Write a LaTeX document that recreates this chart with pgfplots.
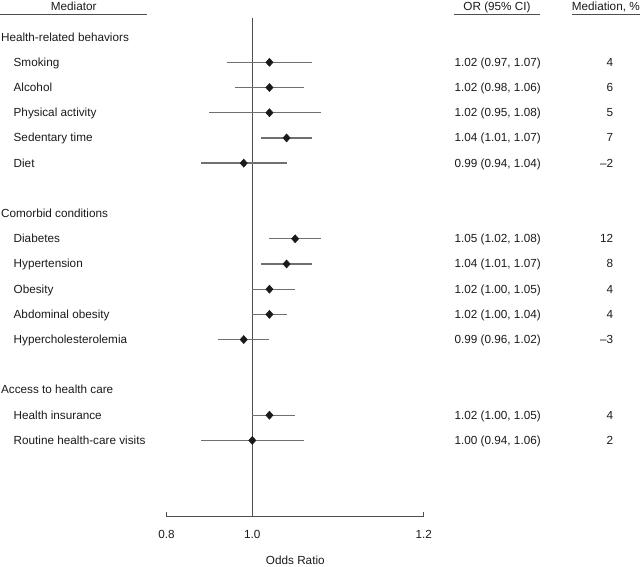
\documentclass[border=0pt]{standalone}
\usepackage{pgfplots}
\usepackage{pgfplotstable}
\pgfplotsset{compat=1.18}
\usepackage{fontspec}
\setmainfont{Liberation Sans}
\definecolor{txt}{HTML}{1A1A1A}
\definecolor{axc}{HTML}{4D4D4D}
\definecolor{cic}{HTML}{707070}
\pgfplotstableread{
y or lo hi
-1 1.02 0.97 1.07
-2 1.02 0.98 1.06
-3 1.02 0.95 1.08
-4 1.04 1.01 1.07
-5 0.99 0.94 1.04
-8 1.05 1.02 1.08
-9 1.04 1.01 1.07
-10 1.02 1.00 1.05
-11 1.02 1.00 1.04
-12 0.99 0.96 1.02
-15 1.02 1.00 1.05
-16 1.00 0.94 1.06
}\datatab
\begin{document}
\begin{tikzpicture}[lbl/.style={font=\fontsize{8.8}{10}\selectfont, text=txt, inner sep=0pt},
  rl/.style={lbl, anchor=base west, yshift=-2.95pt},
  rr/.style={lbl, anchor=base east, yshift=-2.95pt}]
\begin{axis}[
  scale only axis, width=192.8pt, height=373.8pt,
  xmin=0.9, xmax=1.2, ymin=-19.03, ymax=0.746,
  axis x line*=bottom, axis y line=none, clip=false,
  xtick={0.9,1,1.2}, xticklabels={0.8,1.0,1.2},
  tick align=inside, major tick length=3.75pt,
  x axis line style={axc, line width=0.8pt},
  xtick style={axc, line width=0.8pt},
  xticklabel style={lbl, anchor=base, yshift=-16.2pt},
  ytick=\empty,
  /pgf/number format/assume math mode=true,
]
\addplot[axc, line width=0.8pt] coordinates {(1,0.746) (1,-19.03)};
\addplot[only marks, mark=diamond*, mark size=3pt, txt, mark options={xscale=1.2},
  error bars/.cd, x dir=both, x explicit, error mark=none,
  error bar style={cic, line width=1pt}]
  table[x=or, y=y, x error plus expr=\thisrow{hi}-\thisrow{or},
        x error minus expr=\thisrow{or}-\thisrow{lo}] {\datatab};

% headers
\node[lbl, anchor=base] at (axis cs:0.79160,1.075) {Mediator};
\node[lbl, anchor=base] at (axis cs:1.28553,1.075) {OR (95\% CI)};
\node[lbl, anchor=base east] at (axis cs:1.45239,1.075) {Mediation, \%};
\draw[axc, line width=0.6pt] (axis cs:0.70560,0.905) -- (axis cs:0.87678,0.905);
\draw[axc, line width=0.6pt] (axis cs:1.23541,0.905) -- (axis cs:1.33576,0.905);
\draw[axc, line width=0.6pt] (axis cs:1.37304,0.905) -- (axis cs:1.45239,0.905);

% group headers
\node[rl] at (axis cs:0.70653,0) {Health-related behaviors};
\node[rl] at (axis cs:0.70653,-7) {Comorbid conditions};
\node[rl] at (axis cs:0.70653,-14) {Access to health care};

% item labels
\node[rl] at (axis cs:0.72124,-1) {Smoking};
\node[rl] at (axis cs:0.72124,-2) {Alcohol};
\node[rl] at (axis cs:0.72124,-3) {Physical activity};
\node[rl] at (axis cs:0.72124,-4) {Sedentary time};
\node[rl] at (axis cs:0.72124,-5) {Diet};
\node[rl] at (axis cs:0.72124,-8) {Diabetes};
\node[rl] at (axis cs:0.72124,-9) {Hypertension};
\node[rl] at (axis cs:0.72124,-10) {Obesity};
\node[rl] at (axis cs:0.72124,-11) {Abdominal obesity};
\node[rl] at (axis cs:0.72124,-12) {Hypercholesterolemia};
\node[rl] at (axis cs:0.72124,-15) {Health insurance};
\node[rl] at (axis cs:0.72124,-16) {Routine health-care visits};

% OR column
\node[rr] at (axis cs:1.33687,-1) {1.02 (0.97, 1.07)};
\node[rr] at (axis cs:1.33687,-2) {1.02 (0.98, 1.06)};
\node[rr] at (axis cs:1.33687,-3) {1.02 (0.95, 1.08)};
\node[rr] at (axis cs:1.33687,-4) {1.04 (1.01, 1.07)};
\node[rr] at (axis cs:1.33687,-5) {0.99 (0.94, 1.04)};
\node[rr] at (axis cs:1.33687,-8) {1.05 (1.02, 1.08)};
\node[rr] at (axis cs:1.33687,-9) {1.04 (1.01, 1.07)};
\node[rr] at (axis cs:1.33687,-10) {1.02 (1.00, 1.05)};
\node[rr] at (axis cs:1.33687,-11) {1.02 (1.00, 1.04)};
\node[rr] at (axis cs:1.33687,-12) {0.99 (0.96, 1.02)};
\node[rr] at (axis cs:1.33687,-15) {1.02 (1.00, 1.05)};
\node[rr] at (axis cs:1.33687,-16) {1.00 (0.94, 1.06)};

% Mediation column
\node[rr] at (axis cs:1.42135,-1) {4};
\node[rr] at (axis cs:1.42135,-2) {6};
\node[rr] at (axis cs:1.42135,-3) {5};
\node[rr] at (axis cs:1.42135,-4) {7};
\node[rr] at (axis cs:1.42135,-5) {\textendash 2};
\node[rr] at (axis cs:1.42135,-8) {12};
\node[rr] at (axis cs:1.42135,-9) {8};
\node[rr] at (axis cs:1.42135,-10) {4};
\node[rr] at (axis cs:1.42135,-11) {4};
\node[rr] at (axis cs:1.42135,-12) {\textendash 3};
\node[rr] at (axis cs:1.42135,-15) {4};
\node[rr] at (axis cs:1.42135,-16) {2};

% x label
\node[lbl, anchor=base] at (axis cs:1.05018,-20.91) {Odds Ratio};

\coordinate (bbtl) at (axis cs:0.70560,1.4722);
\coordinate (bbbr) at (axis cs:1.45239,-20.988);
\end{axis}
\pgfresetboundingbox
\path[use as bounding box] (bbtl) rectangle (bbbr);
\end{tikzpicture}
\end{document}
